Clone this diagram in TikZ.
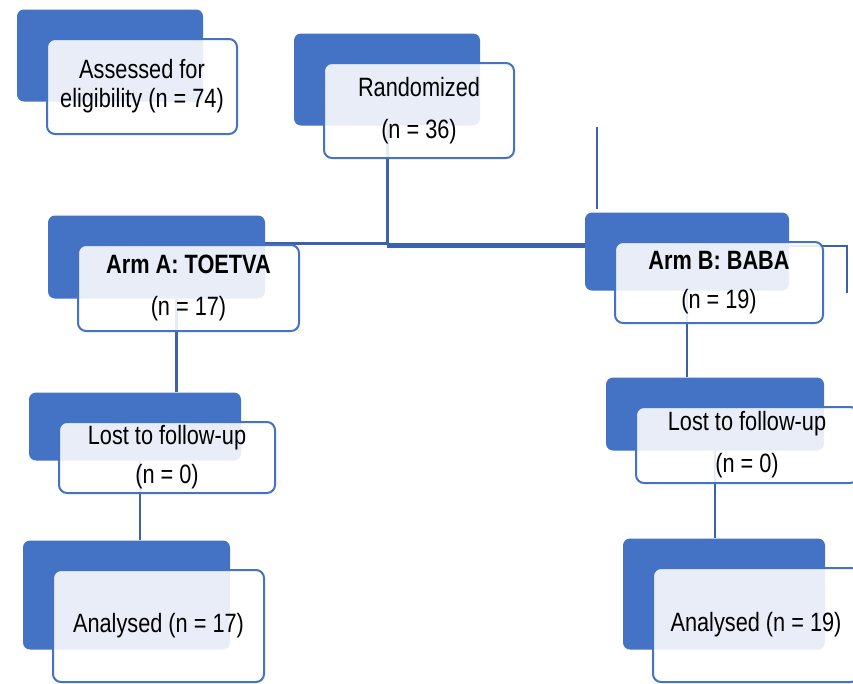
\documentclass[tikz,border=0pt]{standalone}
\usepackage{fontspec}
\setmainfont{Liberation Sans}[FakeStretch=0.82]
\usepackage{tikz}
\usetikzlibrary{positioning,calc}
\definecolor{boxblue}{HTML}{4472C4}
\definecolor{lineblue}{HTML}{3B62AC}

\begin{document}
\begin{tikzpicture}[x=1pt, y=-1pt, font=\fontsize{26.5}{29}\selectfont,
  back/.style={fill=boxblue, rounded corners=7pt},
  front/.style={draw=boxblue, line width=2pt, fill=white, fill opacity=0.88, text opacity=1,
    rounded corners=8pt, align=center},
  link/.style={draw=lineblue, line width=2.5pt}]
\useasboundingbox (0,0) rectangle (853,683);
\clip (0,0) rectangle (853,683);
\node[back, minimum width=186, minimum height=92] (assessB) at (110,55.5) {};
\node[back, minimum width=186, minimum height=92] (randB) at (387,79.5) {};
\node[back, minimum width=217, minimum height=83] (armAB) at (156.5,257) {};
\node[back, minimum width=212, minimum height=68] (lostAB) at (135,426.5) {};
\node[back, minimum width=207, minimum height=109] (anaAB) at (126.5,595) {};
\node[back, minimum width=204, minimum height=78] (armBB) at (687,251.5) {};
\node[back, minimum width=218, minimum height=73] (lostBB) at (715,414) {};
\node[back, minimum width=202, minimum height=111] (anaBB) at (724,594) {};
\coordinate (split) at (387,243.7);
\coordinate (armBtop) at (597,127);
\coordinate (armBside) at (847,293);
\draw[link, line width=3pt] (randB.south) -- (split);
\draw[link] (armAB.east |- split) -- (split);
\draw[link, line width=5pt] ([yshift=-1.5pt]split) -- ([yshift=-1.5pt]armBB.west |- split);
\draw[link] ([xshift=20pt]armAB.south) -- ([xshift=20pt]armAB.south |- lostAB.north);
\draw[link] ([xshift=5pt]lostAB.south) -- ([xshift=5pt]lostAB.south |- anaAB.north);
\draw[link] (armBB.south) -- (armBB.south |- lostBB.north);
\draw[link] (lostBB.south) -- (lostBB.south |- anaBB.north);
\draw[link] (armBtop) -- ([yshift=3pt]armBtop |- armBB.north);
\draw[link] ([yshift=5.5pt]armBB.east) -| (armBside);
\node[front, minimum width=190, minimum height=95] (assess) at ([shift={(32,31)}]assessB.center) {Assessed for\\eligibility (n = 74)};
\node[front, minimum width=190, minimum height=95] (rand) at ([shift={(32,31)}]randB.center) {Randomized\\[13pt](n = 36)};
\node[front, minimum width=221, minimum height=86] (armA) at ([shift={(32,31)}]armAB.center) {\textbf{Arm A: TOETVA}\\[13pt](n = 17)};
\node[front, minimum width=216, minimum height=71] (lostA) at ([shift={(32,31)}]lostAB.center) {Lost to follow-up\\[10pt](n = 0)};
\node[front, minimum width=211, minimum height=112] (anaA) at ([shift={(32,31)}]anaAB.center) {Analysed (n = 17)};
\node[front, minimum width=208, minimum height=81] (armB) at ([shift={(32,31)}]armBB.center) {\textbf{Arm B: BABA}\\[10pt](n = 19)};
\node[front, minimum width=222, minimum height=76] (lostB) at ([shift={(32,31)}]lostBB.center) {Lost to follow-up\\[13pt](n = 0)};
\node[front, minimum width=206, minimum height=114] (anaB) at ([shift={(32,31)}]anaBB.center) {Analysed (n = 19)};
\end{tikzpicture}
\end{document}
